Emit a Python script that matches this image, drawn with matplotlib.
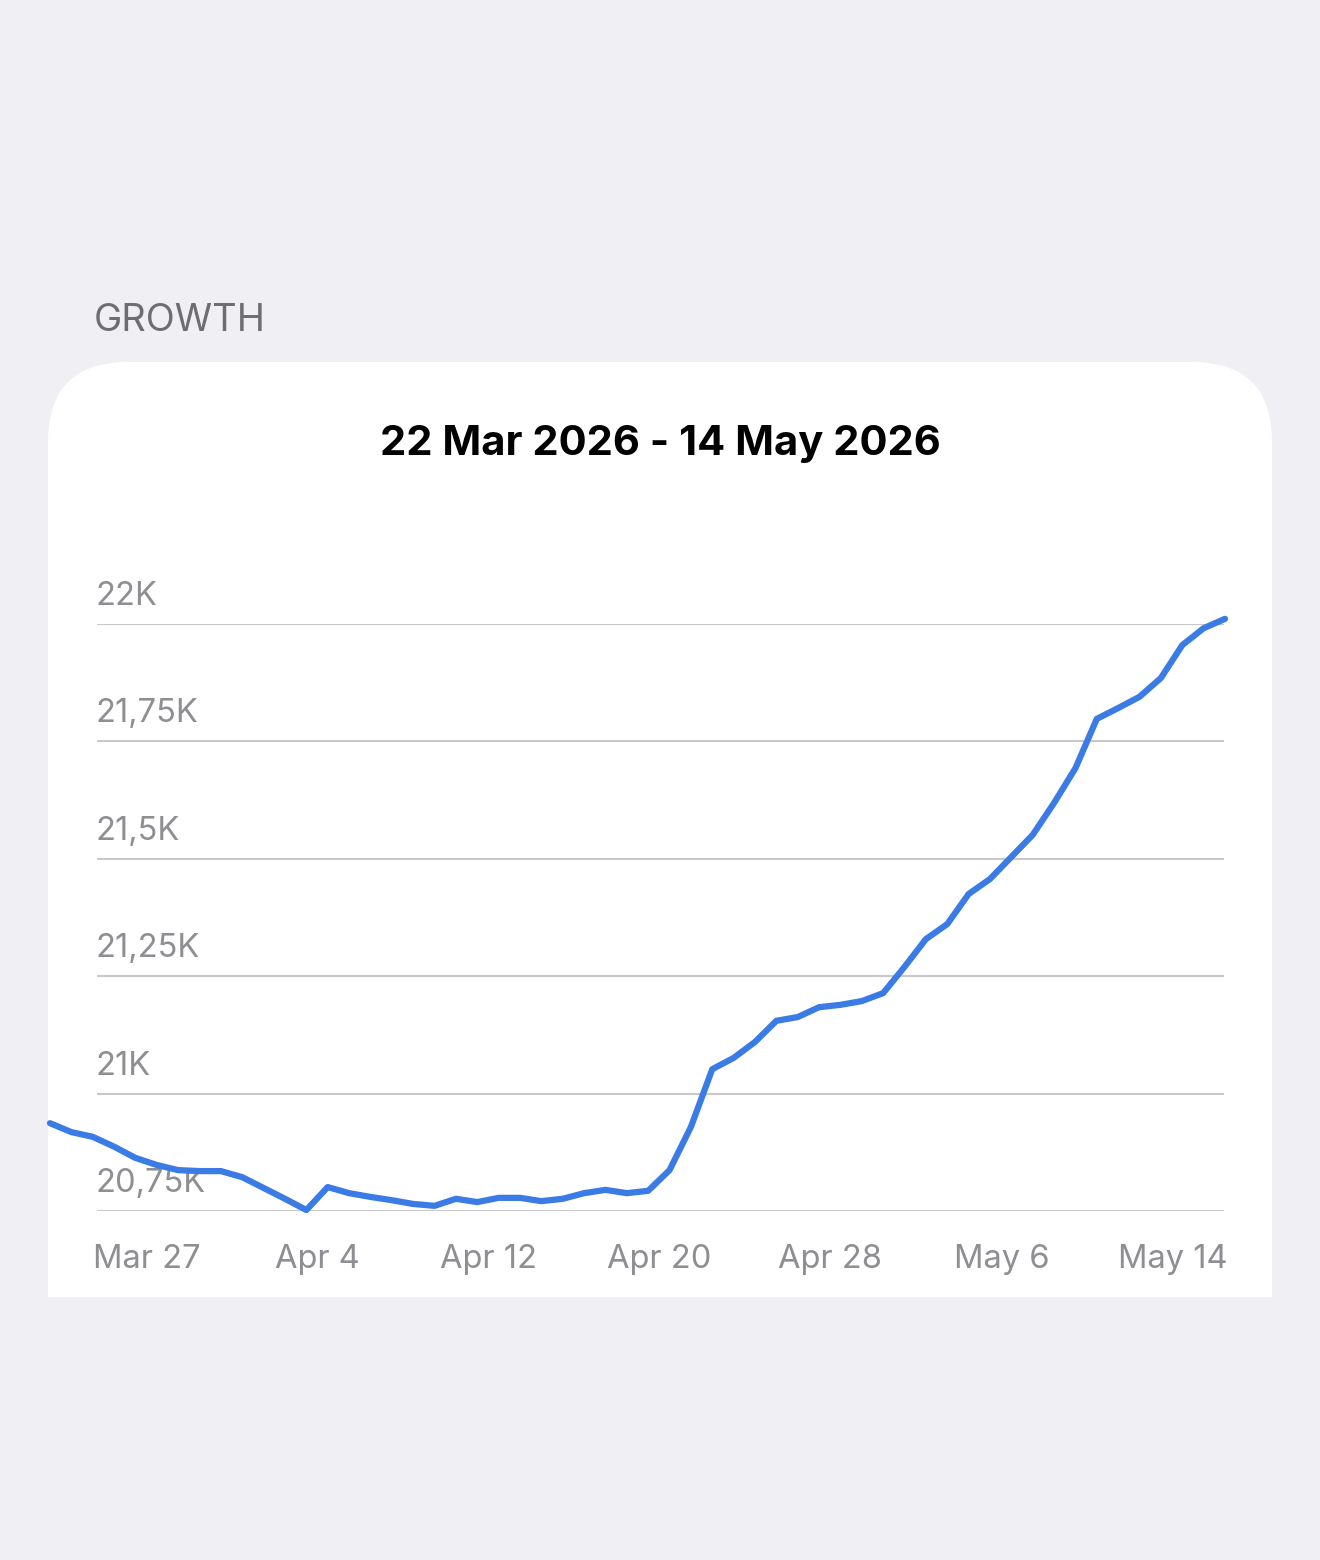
import matplotlib
matplotlib.use("Agg")
import matplotlib.pyplot as plt
import matplotlib.transforms as mtransforms
from matplotlib.patches import FancyBboxPatch, Rectangle
import numpy as np

# daily followers, starting 22 Mar 2026
values = [20937, 20918, 20908, 20887, 20863, 20848, 20837, 20835, 20835, 20822,
          20799, 20776, 20752, 20801, 20788, 20780, 20773, 20765, 20761, 20776,
          20769, 20778, 20778, 20771, 20776, 20788, 20795, 20788, 20793, 20837,
          20929, 21052, 21076, 21110, 21155, 21163, 21184, 21189, 21197, 21214,
          21270, 21329, 21361, 21425, 21457, 21504, 21551, 21619, 21693, 21798,
          21821, 21845, 21885, 21955, 21991, 22011]
tick_days = [5, 13, 21, 29, 37, 45, 53]
tick_labels = ["Mar 27", "Apr 4", "Apr 12", "Apr 20", "Apr 28", "May 6", "May 14"]
y_ticks = [20750, 21000, 21250, 21500, 21750, 22000]
y_labels = ["20,75K", "21K", "21,25K", "21,5K", "21,75K", "22K"]

BG = "#EFEFF4"
GRID = "#C8C8CC"
GREY = "#8E8E93"
BLUE = "#3A7BE6"
FONT = ["Inter", "DejaVu Sans"]

W, H = 1320, 1560
fig = plt.figure(figsize=(W / 100, H / 100), dpi=100)
fig.patch.set_facecolor(BG)

# pixel-space background layer
bg = fig.add_axes([0, 0, 1, 1])
bg.set_xlim(0, W)
bg.set_ylim(H, 0)
bg.axis("off")

card = FancyBboxPatch((48, 362), 1224, 1100, boxstyle="round,pad=0,rounding_size=80",
                      facecolor="white", edgecolor="none")
bg.add_patch(card)
bg.add_patch(Rectangle((0, 1297), W, H - 1297, facecolor=BG, edgecolor="none"))

bg.text(94, 321, "GROWTH", color="#6D6D72", fontsize=27.3, family=FONT,
        ha="left", va="center")
bg.text(660, 444, "22 Mar 2026 - 14 May 2026", color="black", fontsize=30,
        fontweight="bold", family=FONT, ha="center", va="center")

# chart axes
left, right, top, bottom = 97, 1224, 624, 1211
ax = fig.add_axes([left / W, (H - bottom) / H, (right - left) / W, (bottom - top) / H])
ax.patch.set_alpha(0)
px_day = (1225 - 50) / 55
ax.set_xlim((left - 50) / px_day, (right - 50) / px_day)
ax.set_ylim(y_ticks[0], y_ticks[-1])

x = np.arange(len(values))
ax.plot(x, values, color=BLUE, lw=4.5, solid_joinstyle="round",
        solid_capstyle="round", clip_on=False, zorder=3)

for s in ax.spines.values():
    s.set_visible(False)
ax.set_yticks(y_ticks)
ax.set_yticklabels([])
ax.tick_params(axis="y", length=0)
ax.grid(axis="y", color=GRID, lw=1.5)
ax.grid(axis="x", visible=False)

ax.set_xticks(tick_days)
ax.set_xticklabels(tick_labels, color=GREY, fontsize=23.5, family=FONT)
ax.tick_params(axis="x", length=0, pad=24)
shift = mtransforms.ScaledTranslation(-10 / 100, 0, fig.dpi_scale_trans)
for lab in ax.get_xticklabels():
    lab.set_transform(lab.get_transform() + shift)

ytrans = ax.get_yaxis_transform()
up = mtransforms.ScaledTranslation(-1 / 100, 12 / 100, fig.dpi_scale_trans)
for v, lab in zip(y_ticks, y_labels):
    ax.text(0, v, lab, color=GREY, fontsize=23.5, family=FONT,
            ha="left", va="bottom", transform=ytrans + up, zorder=2)

fig.savefig("out.png", dpi=100, facecolor=BG)
